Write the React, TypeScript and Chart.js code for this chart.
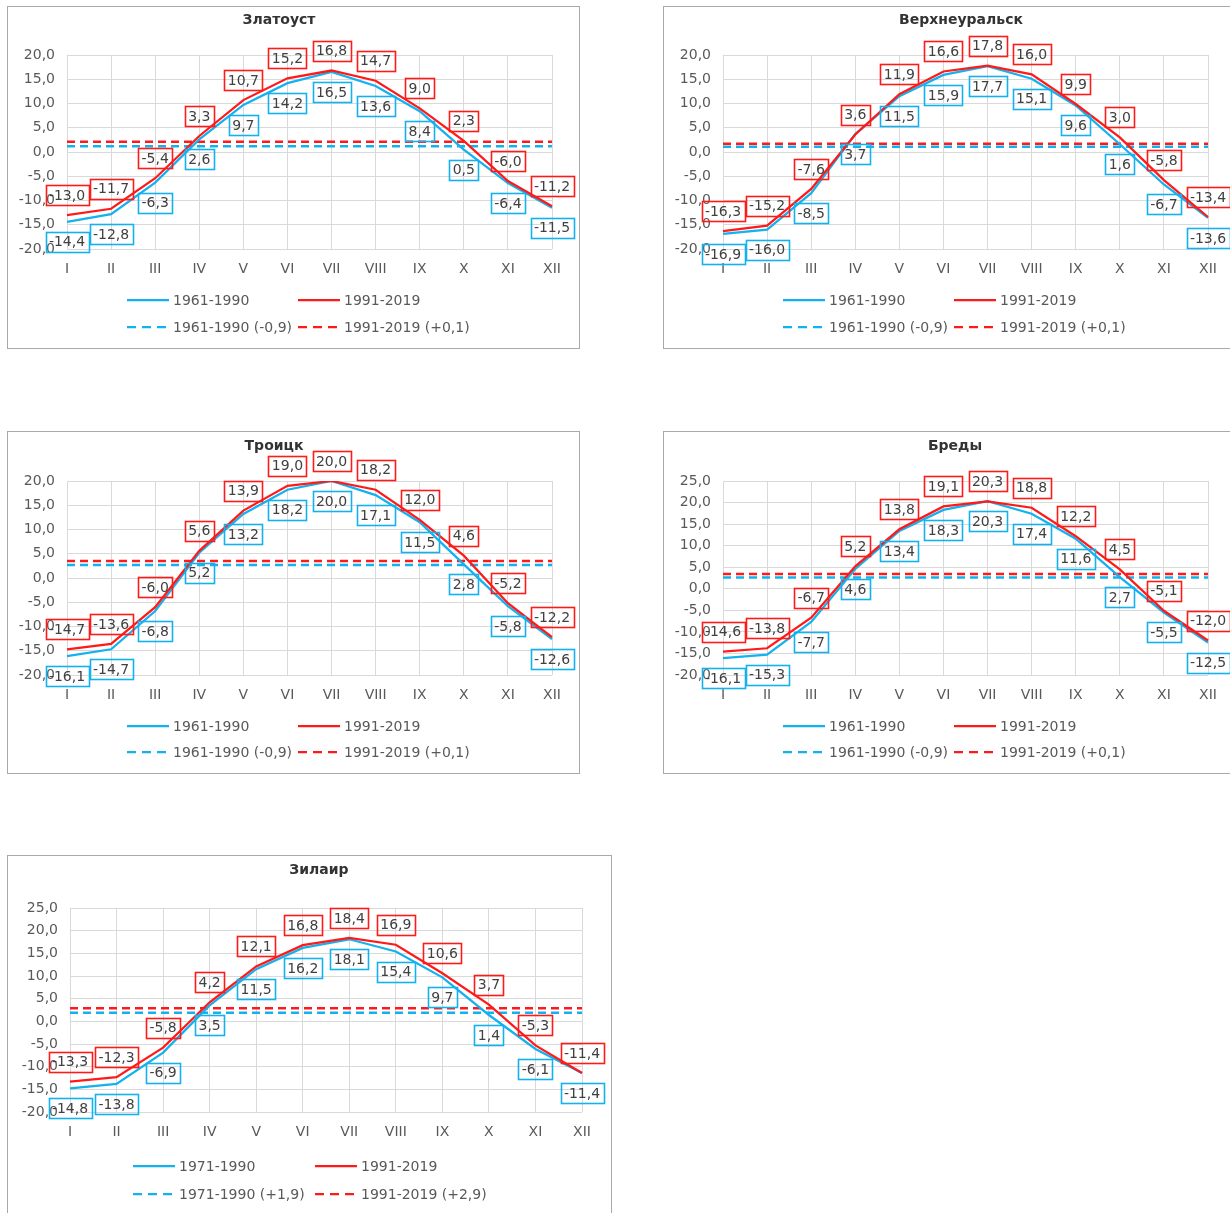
import React, { useEffect, useRef } from "react";
import { Chart, registerables } from "chart.js";

Chart.register(...registerables);

const FONT = '"DejaVu Sans", "Liberation Sans", Arial, sans-serif';
const BLUE = "#14b1ef";
const RED = "#ff1a1a";
const GRID = "#d9d9d9";
const AXIS_TEXT = "#595959";
const LABEL_TEXT = "#404040";

const months = ["I", "II", "III", "IV", "V", "VI", "VII", "VIII", "IX", "X", "XI", "XII"];

// Златоуст
const zlatoustBase = [-14.4, -12.8, -6.3, 2.6, 9.7, 14.2, 16.5, 13.6, 8.4, 0.5, -6.4, -11.5];
const zlatoustRecent = [-13.0, -11.7, -5.4, 3.3, 10.7, 15.2, 16.8, 14.7, 9.0, 2.3, -6.0, -11.2];
const zlatoustMeans = [1.2, 2.1];

// Верхнеуральск
const verkhBase = [-16.9, -16.0, -8.5, 3.7, 11.5, 15.9, 17.7, 15.1, 9.6, 1.6, -6.7, -13.6];
const verkhRecent = [-16.3, -15.2, -7.6, 3.6, 11.9, 16.6, 17.8, 16.0, 9.9, 3.0, -5.8, -13.4];
const verkhMeans = [1.1, 1.7];

// Троицк
const troitskBase = [-16.1, -14.7, -6.8, 5.2, 13.2, 18.2, 20.0, 17.1, 11.5, 2.8, -5.8, -12.6];
const troitskRecent = [-14.7, -13.6, -6.0, 5.6, 13.9, 19.0, 20.0, 18.2, 12.0, 4.6, -5.2, -12.2];
const troitskMeans = [2.7, 3.5];

// Бреды
const bredyBase = [-16.1, -15.3, -7.7, 4.6, 13.4, 18.3, 20.3, 17.4, 11.6, 2.7, -5.5, -12.5];
const bredyRecent = [-14.6, -13.8, -6.7, 5.2, 13.8, 19.1, 20.3, 18.8, 12.2, 4.5, -5.1, -12.0];
const bredyMeans = [2.6, 3.4];

// Зилаир
const zilairBase = [-14.8, -13.8, -6.9, 3.5, 11.5, 16.2, 18.1, 15.4, 9.7, 1.4, -6.1, -11.4];
const zilairRecent = [-13.3, -12.3, -5.8, 4.2, 12.1, 16.8, 18.4, 16.9, 10.6, 3.7, -5.3, -11.4];
const zilairMeans = [1.9, 2.9];

const legend6190 = ["1961-1990", "1991-2019", "1961-1990 (-0,9)", "1991-2019 (+0,1)"];
const legend7190 = ["1971-1990", "1991-2019", "1971-1990 (+1,9)", "1991-2019 (+2,9)"];

const fmt = (v: number) => v.toFixed(1).replace(".", ",");

type Box = { left: number; right: number; top: number; bottom: number };

type PanelProps = {
  title: string;
  titleX: number;
  titleY: number;
  left: number;
  top: number;
  width: number;
  height: number;
  plot: Box;
  yMin: number;
  yMax: number;
  base: number[];
  recent: number[];
  means: number[];
  legend: string[];
  legendCols: number[];
  legendRows: number[];
};

// Value boxes, title and the two-column legend are drawn on the canvas here.
const decorPlugin = {
  id: "panelDecor",
  afterDatasetsDraw(chart: any, _args: any, opts: any) {
    const ctx = chart.ctx as CanvasRenderingContext2D;
    ctx.save();
    ctx.font = `14px ${FONT}`;
    ctx.textAlign = "center";
    ctx.textBaseline = "middle";
    for (const l of opts.labels) {
      const meta = chart.getDatasetMeta(l.index);
      const values = chart.data.datasets[l.index].data as number[];
      meta.data.forEach((pt: any, i: number) => {
        const text = fmt(values[i]);
        const w = Math.round(ctx.measureText(text).width + 7);
        const h = 20;
        const cx = pt.x;
        const cy = pt.y + l.side * 20;
        ctx.strokeStyle = l.color;
        ctx.lineWidth = 1.6;
        ctx.strokeRect(Math.round(cx - w / 2) + 0.5, Math.round(cy - h / 2) + 0.5, w, h);
        ctx.fillStyle = LABEL_TEXT;
        ctx.fillText(text, cx, cy + 1);
      });
    }
    ctx.restore();
  },
  afterDraw(chart: any, _args: any, opts: any) {
    const ctx = chart.ctx as CanvasRenderingContext2D;
    ctx.save();
    ctx.font = `bold 14px ${FONT}`;
    ctx.fillStyle = "#333333";
    ctx.textAlign = "center";
    ctx.textBaseline = "middle";
    ctx.fillText(opts.title, opts.titleX, opts.titleY);
    const items = [
      { color: BLUE, dash: [] as number[] },
      { color: RED, dash: [] as number[] },
      { color: BLUE, dash: [9, 6] },
      { color: RED, dash: [9, 6] },
    ];
    ctx.font = `14px ${FONT}`;
    ctx.textAlign = "left";
    items.forEach((it, k) => {
      const x = opts.cols[k % 2];
      const y = opts.rows[Math.floor(k / 2)];
      ctx.beginPath();
      ctx.setLineDash(it.dash);
      ctx.strokeStyle = it.color;
      ctx.lineWidth = 2.25;
      ctx.moveTo(x, y);
      ctx.lineTo(x + 42, y);
      ctx.stroke();
      ctx.setLineDash([]);
      ctx.fillStyle = AXIS_TEXT;
      ctx.fillText(opts.legend[k], x + 46, y + 1);
    });
    ctx.restore();
  },
};

function Panel(p: PanelProps) {
  const ref = useRef<HTMLCanvasElement | null>(null);
  const cw = p.width - 2;
  const ch = p.height - 2;

  useEffect(() => {
    if (!ref.current) return;
    const chart = new Chart(ref.current, {
      type: "line",
      data: {
        labels: months,
        datasets: [
          { label: p.legend[0], data: p.base, borderColor: BLUE, borderWidth: 2.25, pointRadius: 0, tension: 0, order: 2 },
          { label: p.legend[1], data: p.recent, borderColor: RED, borderWidth: 2.25, pointRadius: 0, tension: 0, order: 1 },
          { label: p.legend[2], data: months.map(() => p.means[0]), borderColor: BLUE, borderWidth: 2.5, borderDash: [8, 5], pointRadius: 0, order: 4 },
          { label: p.legend[3], data: months.map(() => p.means[1]), borderColor: RED, borderWidth: 2.5, borderDash: [8, 5], pointRadius: 0, order: 3 },
        ],
      },
      options: {
        responsive: false,
        animation: false,
        events: [],
        layout: {
          padding: { left: 0, right: cw - p.plot.right, top: p.plot.top, bottom: 0 },
        },
        scales: {
          x: {
            type: "category",
            offset: false,
            grid: { color: GRID, drawTicks: false, lineWidth: 1 },
            border: { display: false },
            ticks: {
              color: AXIS_TEXT,
              font: { family: FONT, size: 14 },
              padding: 12,
              maxRotation: 0,
              autoSkip: false,
            },
            afterFit: (s: any) => {
              s.height = ch - p.plot.bottom;
            },
          },
          y: {
            min: p.yMin,
            max: p.yMax,
            grid: { color: GRID, drawTicks: false, lineWidth: 1 },
            border: { display: false },
            ticks: {
              stepSize: 5,
              color: AXIS_TEXT,
              font: { family: FONT, size: 14 },
              padding: 12,
              callback: (v: any) => fmt(Number(v)),
            },
            afterFit: (s: any) => {
              s.width = p.plot.left;
            },
          },
        },
        plugins: {
          legend: { display: false },
          title: { display: false },
          tooltip: { enabled: false },
          panelDecor: {
            title: p.title,
            titleX: p.titleX,
            titleY: p.titleY,
            legend: p.legend,
            cols: p.legendCols,
            rows: p.legendRows,
            labels: [
              { index: 0, side: 1, color: BLUE },
              { index: 1, side: -1, color: RED },
            ],
          },
        } as any,
      },
      plugins: [decorPlugin as any],
    });
    return () => chart.destroy();
  }, []);

  return (
    <div
      style={{
        position: "absolute",
        left: p.left,
        top: p.top,
        width: p.width,
        height: p.height,
        boxSizing: "border-box",
        border: "1px solid #a9a9a9",
        background: "#ffffff",
      }}
    >
      <canvas ref={ref} width={cw} height={ch} style={{ display: "block", width: cw, height: ch }} />
    </div>
  );
}

const smallPlotA: Box = { left: 59, right: 544, top: 48, bottom: 242 };
const smallPlotB: Box = { left: 59, right: 544, top: 49, bottom: 243 };
const widePlot: Box = { left: 62, right: 574, top: 52, bottom: 256 };

export default function App() {
  return (
    <div
      style={{
        position: "absolute",
        left: 0,
        top: 0,
        width: 1230,
        height: 1213,
        overflow: "hidden",
        background: "#ffffff",
      }}
    >
      <Panel
        title="Златоуст" titleX={271} titleY={13}
        left={7} top={6} width={573} height={343} plot={smallPlotA}
        yMin={-20} yMax={20}
        base={zlatoustBase} recent={zlatoustRecent} means={zlatoustMeans}
        legend={legend6190} legendCols={[119, 290]} legendRows={[293, 320]}
      />
      <Panel
        title="Верхнеуральск" titleX={297} titleY={13}
        left={663} top={6} width={573} height={343} plot={smallPlotA}
        yMin={-20} yMax={20}
        base={verkhBase} recent={verkhRecent} means={verkhMeans}
        legend={legend6190} legendCols={[119, 290]} legendRows={[293, 320]}
      />
      <Panel
        title="Троицк" titleX={266} titleY={14}
        left={7} top={431} width={573} height={343} plot={smallPlotB}
        yMin={-20} yMax={20}
        base={troitskBase} recent={troitskRecent} means={troitskMeans}
        legend={legend6190} legendCols={[119, 290]} legendRows={[294, 320]}
      />
      <Panel
        title="Бреды" titleX={291} titleY={14}
        left={663} top={431} width={573} height={343} plot={smallPlotB}
        yMin={-20} yMax={25}
        base={bredyBase} recent={bredyRecent} means={bredyMeans}
        legend={legend6190} legendCols={[119, 290]} legendRows={[294, 320]}
      />
      <Panel
        title="Зилаир" titleX={311} titleY={14}
        left={7} top={855} width={605} height={368} plot={widePlot}
        yMin={-20} yMax={25}
        base={zilairBase} recent={zilairRecent} means={zilairMeans}
        legend={legend7190} legendCols={[125, 307]} legendRows={[310, 338]}
      />
    </div>
  );
}
